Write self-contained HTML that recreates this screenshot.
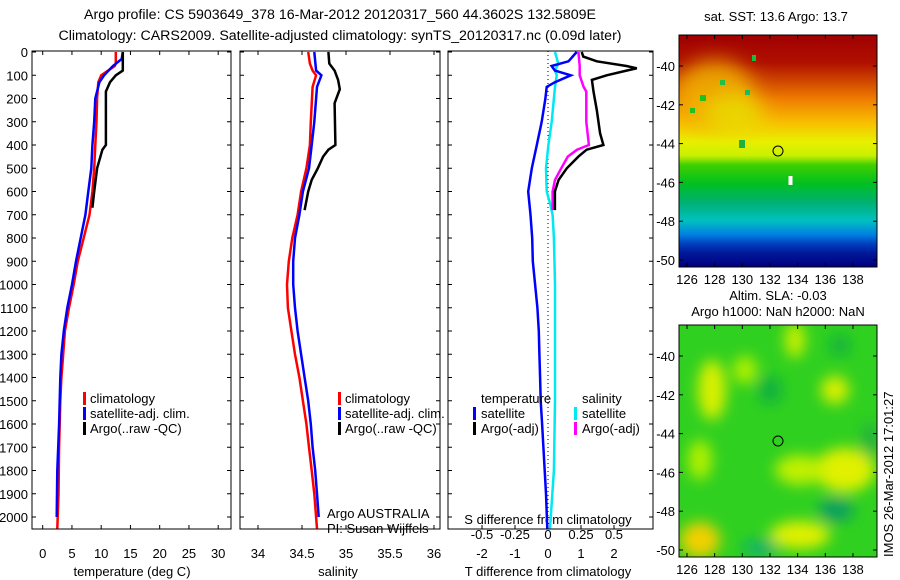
<!DOCTYPE html>
<html><head><meta charset="utf-8"><style>
html,body{margin:0;padding:0;background:#fff;}
svg{display:block;font-family:"Liberation Sans",sans-serif;}
text{font-size:13px;fill:#000;}
</style></head><body>
<svg id="fig" width="900" height="580" viewBox="0 0 900 580" xmlns="http://www.w3.org/2000/svg">
<defs>
<linearGradient id="sstg" x1="0" y1="0" x2="0" y2="1">
<stop offset="0" stop-color="#a00000"/><stop offset="0.12" stop-color="#b01000"/>
<stop offset="0.2" stop-color="#d04800"/><stop offset="0.28" stop-color="#f08000"/>
<stop offset="0.38" stop-color="#f8c000"/><stop offset="0.46" stop-color="#e8f000"/>
<stop offset="0.52" stop-color="#c8f000"/><stop offset="0.56" stop-color="#40d000"/>
<stop offset="0.64" stop-color="#00c020"/><stop offset="0.72" stop-color="#00b070"/>
<stop offset="0.8" stop-color="#00c0c0"/><stop offset="0.86" stop-color="#0080e0"/>
<stop offset="0.9" stop-color="#0040c0"/><stop offset="0.94" stop-color="#001898"/>
<stop offset="1" stop-color="#000080"/></linearGradient>
<filter id="blur" x="-50%" y="-50%" width="200%" height="200%"><feGaussianBlur stdDeviation="7"/></filter>
<filter id="blur2" x="-50%" y="-50%" width="200%" height="200%"><feGaussianBlur stdDeviation="10"/></filter>
<clipPath id="clipTop"><rect x="679" y="35" width="198" height="232"/></clipPath>
<clipPath id="clipBot"><rect x="679" y="325" width="198" height="232"/></clipPath>
</defs>
<text x="340" y="19" text-anchor="middle" style="font-size:14.2px">Argo profile: CS 5903649_378 16-Mar-2012 20120317_560 44.3602S 132.5809E</text>
<text x="340" y="40" text-anchor="middle" style="font-size:14.2px">Climatology: CARS2009. Satellite-adjusted climatology: synTS_20120317.nc (0.09d later)</text>
<g id="panels"></g>
<!-- maps -->
<g>
<text x="776" y="21" text-anchor="middle">sat. SST: 13.6 Argo: 13.7</text>
<g clip-path="url(#clipTop)">
<rect x="679" y="35" width="198" height="232" fill="url(#sstg)"/>
<g filter="url(#blur2)">
<ellipse cx="715" cy="95" rx="40" ry="35" fill="#f0b000" opacity="0.85"/>
<ellipse cx="735" cy="115" rx="30" ry="20" fill="#e8e000" opacity="0.8"/>
</g>
<rect x="700" y="95" width="6" height="6" fill="#20c020"/><rect x="720" y="80" width="5" height="5" fill="#20c040"/>
<rect x="745" y="90" width="5" height="5" fill="#10c060"/><rect x="739" y="140" width="6" height="8" fill="#20b040"/>
<rect x="690" y="108" width="5" height="5" fill="#20c020"/><rect x="752" y="55" width="4" height="6" fill="#10c040"/>
<rect x="788.5" y="176" width="4" height="9" fill="#fff"/>
</g>
<rect x="679" y="35" width="198" height="232" fill="none" stroke="#000" stroke-width="1"/>
<circle cx="778" cy="151" r="5" fill="none" stroke="#000" stroke-width="1"/>
<g id="mapTopAxes"></g>
</g>
<g>
<text x="778" y="300" text-anchor="middle">Altim. SLA: -0.03</text>
<text x="778" y="316" text-anchor="middle">Argo h1000: NaN h2000: NaN</text>
<g clip-path="url(#clipBot)">
<rect x="679" y="325" width="198" height="232" fill="#30d020"/>
<g filter="url(#blur)">
<ellipse cx="712" cy="390" rx="14" ry="30" fill="#d8f000"/>
<ellipse cx="745" cy="370" rx="12" ry="14" fill="#b0f000"/>
<ellipse cx="795" cy="340" rx="10" ry="18" fill="#c8f000"/>
<ellipse cx="835" cy="390" rx="14" ry="14" fill="#d8f000"/>
<ellipse cx="845" cy="470" rx="30" ry="22" fill="#e0f000"/>
<ellipse cx="800" cy="470" rx="25" ry="15" fill="#c0f000"/>
<ellipse cx="700" cy="540" rx="20" ry="18" fill="#f0d000"/>
<ellipse cx="800" cy="535" rx="30" ry="14" fill="#e0f000"/>
<ellipse cx="700" cy="460" rx="12" ry="20" fill="#b0f000"/>
<ellipse cx="770" cy="390" rx="12" ry="14" fill="#10b040"/>
<ellipse cx="840" cy="345" rx="10" ry="10" fill="#10b040"/>
<ellipse cx="836" cy="510" rx="18" ry="12" fill="#10a060"/>
<ellipse cx="760" cy="548" rx="18" ry="8" fill="#10b070"/>
<ellipse cx="870" cy="440" rx="8" ry="18" fill="#20b040"/>
</g>
</g>
<rect x="679" y="325" width="198" height="232" fill="none" stroke="#000" stroke-width="1"/>
<circle cx="778" cy="441" r="5" fill="none" stroke="#000" stroke-width="1"/>
<g id="mapBotAxes"></g>
</g>
<text transform="translate(893,557) rotate(-90)" style="font-size:13px">IMOS 26-Mar-2012 17:01:27</text>
</svg>
<script>
// ---- data ----
const tempClimDepth = [0,50,60,100,130,200,300,400,500,600,700,800,900,1000,1100,1200,1300,1400,1500,1700,1900,2050];
const tempClimVal   = [12.5,12.5,12.3,10,9.5,9.3,9.2,9,8.8,8.5,8,7,6,5.3,4.5,3.8,3.5,3.2,3,2.8,2.7,2.5];
const tempSatDepth  = [0,30,60,100,130,200,300,400,500,600,700,800,900,1000,1100,1200,1300,1400,1600,1800,2000];
const tempSatVal    = [13.7,13.5,12,10.5,9.7,9,8.8,8.5,8.3,7.8,7.3,6.5,5.7,5,4.2,3.6,3.2,3,2.8,2.5,2.4];
const tempArgoDepth = [0,80,100,130,170,400,420,500,600,670];
const tempArgoVal   = [13.7,13.7,12.5,11.5,10.8,10.8,10.2,9.3,8.8,8.5];

const salClimDepth = [0,50,80,100,150,300,400,500,600,700,800,900,1000,1100,1200,1300,1400,1500,1600,1700,1800,1900,2050];
const salClimVal   = [34.57,34.59,34.62,34.66,34.62,34.6,34.59,34.55,34.49,34.45,34.39,34.35,34.33,34.34,34.38,34.42,34.47,34.51,34.55,34.58,34.61,34.64,34.67];
const salSatDepth  = [0,80,100,150,300,400,500,600,700,800,900,1000,1100,1200,1300,1400,1500,1600,1700,1800,1900,2000];
const salSatVal    = [34.64,34.66,34.72,34.67,34.64,34.61,34.58,34.51,34.47,34.42,34.4,34.4,34.42,34.45,34.49,34.53,34.57,34.6,34.62,34.65,34.67,34.69];
const salArgoDepth = [0,50,80,120,160,220,400,420,450,500,550,600,680];
const salArgoVal   = [34.8,34.81,34.87,34.91,34.93,34.87,34.88,34.8,34.74,34.68,34.61,34.57,34.53];

const dTSatDepth  = [0,40,60,80,100,130,150,200,300,400,500,600,700,800,900,1000,1100,1200,1300,1400,1500,1600,1700,1800,1900,2050];
const dTSatVal    = [0.87,0.62,0.11,0.21,0.69,0.21,-0.04,-0.08,-0.19,-0.34,-0.49,-0.6,-0.53,-0.48,-0.46,-0.39,-0.32,-0.28,-0.26,-0.24,-0.22,-0.18,-0.14,-0.10,-0.06,-0.02];
const dTArgoDepth = [0,20,40,60,70,80,100,120,170,250,350,400,420,450,500,550,600,680];
const dTArgoVal   = [1.02,1.07,1.48,2.38,2.69,2.38,1.78,1.33,1.38,1.48,1.58,1.68,1.17,0.92,0.57,0.32,0.21,0.21];
const dSSatDepth  = [0,50,80,100,150,300,400,500,600,650,700,800,1000,1500,1800,2050];
const dSSatVal    = [0.053,0.078,0.053,0.066,0.053,0.028,0.003,-0.015,-0.01,0.015,0.035,0.045,0.053,0.053,0.045,0.015];
const dSArgoDepth = [0,60,100,150,170,300,400,420,450,500,550,600,680];
const dSArgoVal   = [0.23,0.24,0.24,0.27,0.29,0.29,0.31,0.22,0.15,0.10,0.053,0.035,0.035];

const depthTicks = [0,100,200,300,400,500,600,700,800,900,1000,1100,1200,1300,1400,1500,1600,1700,1800,1900,2000];
const tempTicks = [0,5,10,15,20,25,30];
const salTicks = [34,34.5,35,35.5,36];
const dTTicks = [-2,-1,0,1,2];
const dSTicks = [-0.5,-0.25,0,0.25,0.5];
const sstLatTicks = [-40,-42,-44,-46,-48,-50];
const lonTicks = [126,128,130,132,134,136,138];

// ---- scales ----
const yD = d => 52 + d * 0.2325;
const xT = t => 42.7 + t * 5.85;
const xS = s => 258 + (s - 34) * 88;
const xDT = t => 548 + t * 33;
const xDS = s => 548 + s * 132;
const P1 = {x0:32, x1:231}, P2 = {x0:240, x1:440}, P3 = {x0:448, x1:653};
const TOP = 51, BOT = 529;
const NS = 'http://www.w3.org/2000/svg';
const root = document.getElementById('panels');
function mk(tag, attrs, parent){ const e = document.createElementNS(NS, tag); for (const k in attrs) e.setAttribute(k, attrs[k]); (parent||root).appendChild(e); return e; }
function txt(x,y,s,anchor,parent){ const e = mk('text',{x:x,y:y,'text-anchor':anchor||'start'},parent); e.textContent = s; return e; }
function line(depths, vals, xs, color, w, name){
  const pts = depths.map((d,i)=> xs(vals[i]).toFixed(1)+','+yD(d).toFixed(1)).join(' ');
  const p = mk('polyline',{points:pts,fill:'none',stroke:color,'stroke-width':w,'stroke-linejoin':'miter'});
  
  
}
function frame(P, name){
  const r = mk('rect',{x:P.x0,y:TOP,width:P.x1-P.x0,height:BOT-TOP,fill:'none',stroke:'#000','stroke-width':1});
  
  
  depthTicks.forEach(d=>{ mk('line',{x1:P.x0,x2:P.x0+4,y1:yD(d),y2:yD(d),stroke:'#000'}); mk('line',{x1:P.x1,x2:P.x1-4,y1:yD(d),y2:yD(d),stroke:'#000'}); });
}
function legendBar(x,y,color){ mk('rect',{x:x,y:y-11,width:3,height:13,fill:color}); }

// panel 1
frame(P1,'temperature-panel');
depthTicks.forEach(d=>{ const t = txt(28, yD(d)+5, String(d), 'end');   });
tempTicks.forEach(v=>{ mk('line',{x1:xT(v),x2:xT(v),y1:BOT,y2:BOT-4,stroke:'#000'}); mk('line',{x1:xT(v),x2:xT(v),y1:TOP,y2:TOP+4,stroke:'#000'}); txt(xT(v), 558, String(v), 'middle'); });
txt(132, 576, 'temperature (deg C)', 'middle');
line(tempClimDepth,tempClimVal,xT,'#ff0000',2.5,'temp-climatology-line');
line(tempSatDepth,tempSatVal,xT,'#0000ff',2.5,'temp-satellite-line');
line(tempArgoDepth,tempArgoVal,xT,'#000000',2.5,'temp-argo-line');
legendBar(83,403,'#f00'); txt(90,403,'climatology');
legendBar(83,418,'#00f'); txt(90,418,'satellite-adj. clim.');
legendBar(83,433,'#000'); txt(90,433,'Argo(..raw -QC)');

// panel 2
frame(P2,'salinity-panel');
salTicks.forEach(v=>{ mk('line',{x1:xS(v),x2:xS(v),y1:BOT,y2:BOT-4,stroke:'#000'}); mk('line',{x1:xS(v),x2:xS(v),y1:TOP,y2:TOP+4,stroke:'#000'}); txt(xS(v), 558, String(v), 'middle'); });
txt(338, 576, 'salinity', 'middle');
line(salClimDepth,salClimVal,xS,'#ff0000',2.5,'sal-climatology-line');
line(salSatDepth,salSatVal,xS,'#0000ff',2.5,'sal-satellite-line');
line(salArgoDepth,salArgoVal,xS,'#000000',2.5,'sal-argo-line');
legendBar(338,403,'#f00'); txt(345,403,'climatology');
legendBar(338,418,'#00f'); txt(345,418,'satellite-adj. clim.');
legendBar(338,433,'#000'); txt(345,433,'Argo(..raw -QC)');
txt(327,518,'Argo AUSTRALIA'); txt(327,533,'PI: Susan Wijffels');

// panel 3
frame(P3,'difference-panel');
mk('line',{x1:548,x2:548,y1:TOP,y2:BOT,stroke:'#000','stroke-width':1,'stroke-dasharray':'1,3'});
dTTicks.forEach(v=>{ mk('line',{x1:xDT(v),x2:xDT(v),y1:BOT,y2:BOT-4,stroke:'#000'}); txt(xDT(v), 558, String(v), 'middle'); });
dSTicks.forEach(v=>{ txt(xDS(v), 539, String(v), 'middle'); });
txt(548, 524, 'S difference from climatology', 'middle');
txt(548, 576, 'T difference from climatology', 'middle');
line(dSSatDepth,dSSatVal,xDS,'#00e8f0',2.5,'sal-diff-satellite-line');
line(dSArgoDepth,dSArgoVal,xDS,'#ff00ff',2.5,'sal-diff-argo-line');
line(dTSatDepth,dTSatVal,xDT,'#0000ff',2.5,'temp-diff-satellite-line');
line(dTArgoDepth,dTArgoVal,xDT,'#000000',2.5,'temp-diff-argo-line');
txt(481,403,'temperature'); txt(582,403,'salinity');
legendBar(473,418,'#00f'); txt(481,418,'satellite');
legendBar(473,433,'#000'); txt(481,433,'Argo(-adj)');
legendBar(574,418,'#00e8f0'); txt(582,418,'satellite');
legendBar(574,433,'#f0f'); txt(582,433,'Argo(-adj)');

// map axes
const xLon = l => 687 + (l - 126) * 13.83;
const yLat = (l, off) => 66 + off + (-40 - l) * 19.4;
function mapAxes(id, off, labY){
  const g = document.getElementById(id);
  sstLatTicks.forEach(l=>{ const y = yLat(l,off); mk('line',{x1:679,x2:683,y1:y,y2:y,stroke:'#000'},g); mk('line',{x1:877,x2:873,y1:y,y2:y,stroke:'#000'},g); txt(675, y+5, String(l), 'end', g); });
  lonTicks.forEach(l=>{ const x = xLon(l); mk('line',{x1:x,x2:x,y1:35+off,y2:39+off,stroke:'#000'},g); mk('line',{x1:x,x2:x,y1:267+off,y2:263+off,stroke:'#000'},g); txt(x, labY, String(l), 'middle', g); });
}
mapAxes('mapTopAxes', 0, 284);
mapAxes('mapBotAxes', 290, 574);
</script>
</body></html>
